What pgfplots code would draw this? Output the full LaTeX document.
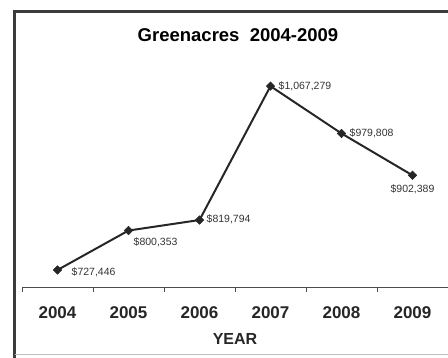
\documentclass[border=0pt]{standalone}
\usepackage{pgfplots}
\pgfplotsset{compat=1.18}
\usepackage{fontspec}
\setmainfont{Liberation Sans}

\definecolor{ink}{HTML}{262626}

\begin{document}
\begin{tikzpicture}[x=1pt,y=1pt]
  % page area
  \path[use as bounding box] (0,0) rectangle (448,358);
  % chart frame
  \draw[ink!90, line width=3pt] (14.5,0) -- (14.5,346) -- (448,346);
  \draw[black!25, line width=0.8pt] (14.5,4) -- (448,4);

  % title
  \node[font=\bfseries\fontsize{18.5}{20}\selectfont, text=black] at (238,323) {Greenacres\ \ 2004-2009};

  \begin{axis}[
    at={(22pt,71pt)}, anchor=south west,
    scale only axis, width=426pt, height=227pt,
    xmin=-0.5, xmax=5.5,
    ymin=696000, ymax=1115600,
    axis x line*=bottom, hide y axis,
    x axis line style={black!70, line width=0.9pt, -},
    xtick={0,1,2,3,4,5},
    xticklabels={2004,2005,2006,2007,2008,2009},
    major tick length=0pt,
    extra x ticks={-0.5,0.5,1.5,2.5,3.5,4.5},
    extra x tick labels={},
    extra x tick style={major tick length=5pt, tick align=outside,
      tick style={black!70, line width=0.9pt}},
    xticklabel style={font=\bfseries\fontsize{17}{18}\selectfont, text=ink, yshift=-16pt},
    xlabel={YEAR},
    xlabel style={font=\bfseries\fontsize{16}{17}\selectfont, text=ink, yshift=-3pt},
    clip=false,
  ]
    \addplot[ink, line width=2pt, mark=square*, mark size=3pt,
      mark options={rotate=45, fill=ink, line width=0.5pt}]
      coordinates {(0,727446) (1,800353) (2,819794) (3,1067279) (4,979808) (5,902389)};

    \begin{scope}[every node/.style={font=\fontsize{10.5}{11}\selectfont, text=black!80, inner sep=0pt}]
      \node[anchor=west, xshift=14pt, yshift=-2pt] at (axis cs:0,727446) {\$727,446};
      \node[anchor=west, xshift=5pt, yshift=-12pt] at (axis cs:1,800353) {\$800,353};
      \node[anchor=west, xshift=7pt, yshift=1pt] at (axis cs:2,819794) {\$819,794};
      \node[anchor=west, xshift=8pt] at (axis cs:3,1067279) {\$1,067,279};
      \node[anchor=west, xshift=8pt] at (axis cs:4,979808) {\$979,808};
      \node[anchor=center, yshift=-14pt] at (axis cs:5,902389) {\$902,389};
    \end{scope}
  \end{axis}
\end{tikzpicture}
\end{document}
